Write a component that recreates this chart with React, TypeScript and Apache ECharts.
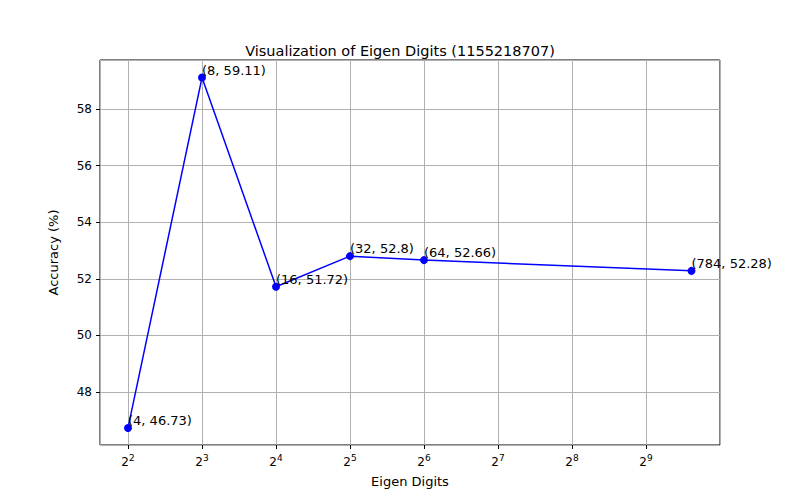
import React, { useEffect, useRef } from 'react';
import * as echarts from 'echarts';

const digits = [4, 8, 16, 32, 64, 784];
const accuracy = [46.73, 59.11, 51.72, 52.8, 52.66, 52.28];
const pointLabels = ['(4, 46.73)', '(8, 59.11)', '(16, 51.72)', '(32, 52.8)', '(64, 52.66)', '(784, 52.28)'];

const App: React.FC = () => {
  const ref = useRef<HTMLDivElement>(null);

  useEffect(() => {
    if (!ref.current) return;
    const chart = echarts.init(ref.current, null, { renderer: 'svg' });
    const font = 'DejaVu Sans';
    chart.setOption({
      animation: false,
      textStyle: { fontFamily: font },
      title: {
        text: 'Visualization of Eigen Digits (1155218707)',
        left: 'center',
        top: 38,
        textStyle: { fontSize: 14.5, fontWeight: 'normal', color: '#000', fontFamily: font },
      },
      grid: { left: 100, right: 80, top: 60, bottom: 55, show: true, borderColor: '#000', borderWidth: 1 },
      xAxis: {
        type: 'value',
        min: 1.6216,
        max: 10,
        minInterval: 1,
        maxInterval: 1,
        name: 'Eigen Digits',
        nameLocation: 'middle',
        nameGap: 30,
        nameTextStyle: { fontSize: 13, color: '#000' },
        axisLine: { show: false },
        axisTick: { show: true, lineStyle: { color: '#000' }, length: 4 },
        splitLine: { show: true, lineStyle: { color: '#b0b0b0' } },
        axisLabel: {
          color: '#000',
          fontSize: 12,
          showMinLabel: false,
          showMaxLabel: false,
          formatter: (v: number) => (Number.isInteger(v) && v < 10 ? `2{s|${v}}` : ''),
          rich: { s: { fontSize: 9, padding: [0, 0, 8, 0] } },
        },
      },
      yAxis: {
        type: 'value',
        min: 46.127,
        max: 59.73,
        minInterval: 2,
        maxInterval: 2,
        name: 'Accuracy (%)',
        nameLocation: 'middle',
        nameGap: 40,
        nameTextStyle: { fontSize: 13, color: '#000' },
        axisLine: { show: false },
        axisTick: { show: true, lineStyle: { color: '#000' }, length: 4 },
        splitLine: { show: true, lineStyle: { color: '#b0b0b0' } },
        axisLabel: {
          color: '#000',
          fontSize: 12,
          showMinLabel: false,
          showMaxLabel: false,
          formatter: (v: number) => (Math.abs(v % 2) < 1e-6 ? String(v) : ''),
        },
      },
      series: [
        {
          type: 'line',
          data: digits.map((d, i) => [Math.log2(d), accuracy[i]]),
          symbol: 'circle',
          symbolSize: 8,
          itemStyle: { color: '#0000ff' },
          lineStyle: { color: '#0000ff', width: 1.5 },
          label: {
            show: true,
            position: [4, -10],
            align: 'left',
            color: '#000',
            fontSize: 13,
            formatter: (p: any) => pointLabels[p.dataIndex],
          },
        },
      ],
    });
    return () => chart.dispose();
  }, []);

  return <div ref={ref} style={{ width: 800, height: 500, position: 'absolute', left: 0, top: 0 }} />;
};

export default App;
